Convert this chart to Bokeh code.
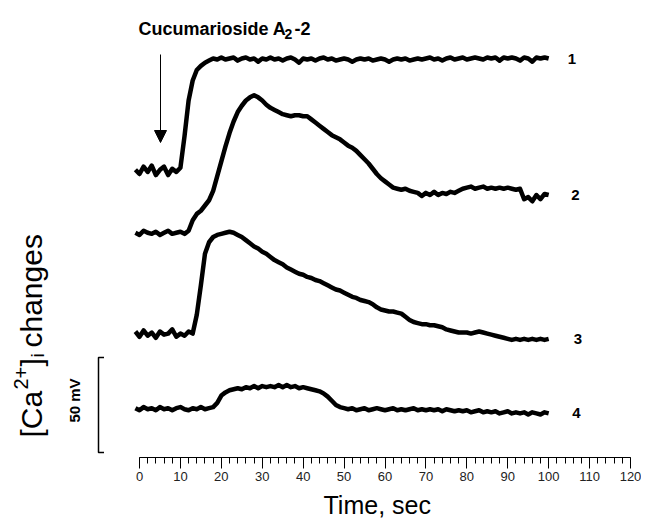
import math
from bokeh.plotting import figure
from bokeh.models import Range1d, LinearAxis, FixedTicker, ColumnDataSource, Arrow, NormalHead, Title
from bokeh.embed import file_html
from bokeh.resources import INLINE
from bokeh.core.properties import value

# ---------------- data (signal traces, sampled every second) ----------------
TIME = list(range(-1, 101))

TRACE_1 = [137,
           135, 138.5, 136, 139, 134.5, 137, 138.5, 134.5, 137.5, 136,
           138, 153, 170, 179.5, 184.5, 186.5, 188, 189, 190, 189.5,
           190.5, 189.5, 190, 190.5, 189, 190, 190.5, 189.5, 190, 188.5,
           190, 189.5, 190.5, 189.5, 190, 189, 190, 190.5, 189.5, 188,
           190, 189.5, 190, 189, 190, 190.5, 189.5, 190, 189, 189.5,
           190, 189.5, 188.5, 189.5, 190, 189.5, 190, 189, 189.5, 190,
           189.5, 188.5, 189.5, 190, 189.5, 190, 189, 189.5, 190, 189.5,
           190, 190.5, 189.5, 190, 189, 190, 190.5, 189.5, 190, 190.5,
           189.5, 190, 190.5, 190, 189.5, 190.5, 190, 190.5, 189, 190.5,
           190, 190.5, 190, 189, 190.5, 190, 188.5, 190.5, 190, 190.5,
           190]

TRACE_2 = [107,
           106, 108, 107, 106.5, 107.5, 106, 107, 108, 106.5, 107,
           107.5, 106.5, 108, 113, 116, 117.5, 120, 122.5, 127, 134,
           141, 148, 154.5, 160, 164.5, 167.5, 170, 171.5, 172.5, 171.5,
           170, 168, 166.5, 165.5, 164.5, 163.5, 163, 162.5, 163, 163,
           162.5, 162.5, 161, 159.5, 158, 156.5, 155, 153.5, 152.5, 151.5,
           150, 148.5, 147.5, 146, 144, 142, 140, 137.5, 135, 133,
           131.5, 130, 128.5, 128, 127.5, 128, 127, 126.5, 126, 124.5,
           126, 125, 126.5, 125, 126, 125.5, 126.5, 126, 127, 128,
           128.5, 129, 128, 128.5, 129, 128, 128.5, 128, 128.5, 128,
           128.5, 128, 127.5, 128, 123, 124, 122, 125, 123, 125.5,
           125]

TRACE_3 = [60,
           57.5, 60.5, 58, 59.5, 57, 60, 58.5, 59, 61, 57.5,
           59, 58, 60, 59, 68, 82, 97, 102.5, 105, 106,
           106.5, 107, 107.5, 107, 106, 105, 103.5, 102, 100.5, 99.5,
           98, 97, 95.5, 94, 93, 92, 90.5, 89.5, 88.5, 87.5,
           87, 86, 85.5, 84.5, 84, 83, 82, 81, 80, 79.5,
           78.5, 77.5, 76.5, 76, 75, 74.5, 74, 73, 71.5, 70.5,
           70, 69.5, 69.5, 69, 68.5, 67, 65.5, 64.5, 64, 63.5,
           63.5, 63, 63, 62.5, 62, 61, 60.5, 60, 59.5, 59.5,
           59.5, 59, 59.5, 60, 59.5, 59, 58.5, 58, 57.5, 57,
           56.5, 56, 56.5, 56, 56.5, 56, 56.5, 56, 56.5, 56,
           56.5]

TRACE_4 = [23.5,
           22.5, 24, 23, 23.5, 22.5, 24, 23, 23.5, 22.5, 23.5,
           24, 23, 22.5, 23.5, 23, 24, 23, 23.5, 24, 26,
           29.5, 31, 32, 32.5, 33, 32.5, 33.5, 33, 34, 33,
           34, 33.5, 34, 33.5, 34.5, 33.5, 34.5, 33.5, 34, 33,
           33.5, 33, 32.5, 32, 31.5, 30.5, 29, 27, 25, 24,
           23.5, 23, 23.5, 22.5, 23, 23.5, 22.5, 23, 23.5, 23,
           22.5, 23, 23.5, 22.5, 23, 22.5, 23, 23.5, 22.5, 23,
           22.5, 23, 22.5, 23, 22, 23, 22.5, 22, 22.5, 22,
           22.5, 21.5, 22, 22.5, 21.5, 22, 21.5, 22, 21, 21.5,
           22, 21, 21.5, 21, 21.5, 20.5, 21.5, 21, 20.5, 21.5,
           21]

TRACES = [TRACE_1, TRACE_2, TRACE_3, TRACE_4]
TRACE_NAMES = ["1", "2", "3", "4"]

X_TICKS = list(range(0, 121, 10))
X_MINOR_TICKS = list(range(0, 121, 2))

TITLE_MAIN = "Cucumarioside A"
TITLE_SUB = "2"
TITLE_TAIL = "-2"
X_LABEL = "Time, sec"
SCALE_LABEL = "50 mV"

# ---------------- layout helpers (screen pixel -> data) ----------------
X0_PX, PX_PER_S = 139.0, 4.0917
Y0_PX, PX_PER_U = 457.0, 2.1


def dx(px):
    return (px - X0_PX) / PX_PER_S


def dy(py):
    return (Y0_PX - py) / PX_PER_U


FONT = value("Liberation Sans")

p = figure(frame_width=641, frame_height=457,
           x_range=Range1d(dx(0), dx(641)), y_range=Range1d(dy(457), dy(0)),
           x_axis_type=None, y_axis_type=None,
           output_backend="svg", toolbar_location=None,
           min_border_left=0, min_border_right=0, min_border_top=0, min_border_bottom=0)
p.outline_line_color = None
p.background_fill_color = "white"
p.border_fill_color = "white"

# traces
for vals in TRACES:
    src = ColumnDataSource(dict(t=TIME, v=vals))
    p.line("t", "v", source=src, line_color="black", line_width=4.5, line_join="round")

# trace numbers
label_x = [dx(571.5), dx(575), dx(577.5), dx(576)]
label_y = [TRACE_1[-1], TRACE_2[-1], TRACE_3[-1], TRACE_4[-1]]
p.text(x=label_x, y=label_y, text=TRACE_NAMES, text_font=FONT, text_font_size="15px",
       text_font_style="bold", text_align="center", text_baseline="middle", text_color="black")

# title with subscript
p.text(x=[dx(138)], y=[dy(28)], text=[TITLE_MAIN], text_font=FONT, text_font_size="18px",
       text_font_style="bold", text_align="left", text_baseline="alphabetic", text_color="black")
p.text(x=[dx(284)], y=[dy(33)], text=[TITLE_SUB], text_font=FONT, text_font_size="14px",
       text_font_style="bold", text_align="left", text_baseline="alphabetic", text_color="black")
p.text(x=[dx(294)], y=[dy(28)], text=[TITLE_TAIL], text_font=FONT, text_font_size="18px",
       text_font_style="bold", text_align="left", text_baseline="alphabetic", text_color="black")

# application arrow
p.add_layout(Arrow(end=NormalHead(size=12, fill_color="black", line_color="black", line_width=1),
                   x_start=dx(160), y_start=dy(54), x_end=dx(160), y_end=dy(142),
                   line_color="black", line_width=1))

# scale bar
p.line([dx(103.5), dx(98), dx(98), dx(103.5)], [dy(357), dy(357), dy(452), dy(452)],
       line_color="black", line_width=1.5)
p.text(x=[dx(74)], y=[dy(400)], text=[SCALE_LABEL], text_font=FONT, text_font_size="15px",
       text_font_style="bold", angle=math.pi / 2, text_align="center", text_baseline="middle",
       text_color="black")

# y label "[Ca2+]i changes" (rotated)
ang = math.pi / 2
p.text(x=[dx(31)], y=[dy(437)], text=["[Ca"], text_font=FONT, text_font_size="30px",
       angle=ang, text_align="left", text_baseline="alphabetic", text_color="black")
p.text(x=[dx(20)], y=[dy(389)], text=["2+"], text_font=FONT, text_font_size="20px",
       angle=ang, text_align="left", text_baseline="alphabetic", text_color="black")
p.text(x=[dx(31)], y=[dy(366)], text=["]"], text_font=FONT, text_font_size="30px",
       angle=ang, text_align="left", text_baseline="alphabetic", text_color="black")
p.text(x=[dx(37)], y=[dy(357)], text=["i"], text_font=FONT, text_font_size="19px",
       angle=ang, text_align="left", text_baseline="alphabetic", text_color="black")
p.text(x=[dx(31)], y=[dy(347)], text=["changes"], text_font=FONT, text_font_size="30px",
       angle=ang, text_align="left", text_baseline="alphabetic", text_color="black")

# x axis (ticks only on 0..120)
xaxis = LinearAxis(ticker=FixedTicker(ticks=X_TICKS, minor_ticks=X_MINOR_TICKS),
                   bounds=(0, 120))
xaxis.axis_line_color = "black"
xaxis.axis_line_width = 1
xaxis.major_tick_line_color = "black"
xaxis.minor_tick_line_color = "black"
xaxis.major_tick_in = 0
xaxis.major_tick_out = 11
xaxis.minor_tick_in = 0
xaxis.minor_tick_out = 6
xaxis.major_label_standoff = 3
xaxis.major_label_text_font = "Liberation Sans"
xaxis.major_label_text_font_size = "13px"
xaxis.major_label_text_color = "#222222"
p.add_layout(xaxis, "below")

# axis title centred under the time axis (offset from the left edge of the panel)
p.add_layout(Title(text=X_LABEL, align="left", offset=323, standoff=10,
                   text_font="Liberation Sans", text_font_size="25px",
                   text_font_style="normal", text_color="black"), "below")

open("out.html", "w").write(file_html(p, INLINE))
